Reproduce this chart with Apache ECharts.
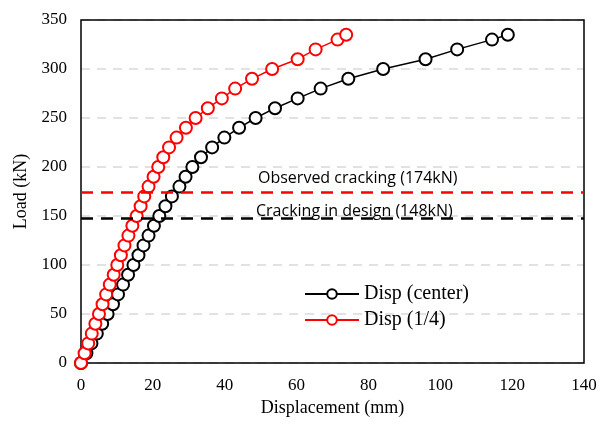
<!DOCTYPE html>
<html><head><meta charset="utf-8">
<script src="https://cdn.jsdelivr.net/npm/echarts@6/dist/echarts.min.js"></script>
<style>html,body{margin:0;padding:0;background:#fff}#c{width:611px;height:429px}</style>
</head><body><div id="c"></div>
<script>
const loads = [0,10,20,30,40,50,60,70,80,90,100,110,120,130,140,150,160,170,180,190,200,210,220,230,240,250,260,270,280,290,300,310,320,330,335];
const dispCenter = [0,1.5,2.9,4.4,5.9,7.4,8.9,10.3,11.7,13.1,14.6,16.0,17.4,18.8,20.3,21.8,23.5,25.3,27.4,29.1,31.0,33.4,36.5,39.9,44.0,48.6,54.0,60.3,66.7,74.4,84.1,95.9,104.7,114.4,118.8];
const dispQuarter = [0,1.0,2.0,3.0,4.0,5.0,6.0,7.0,8.0,9.1,10.1,11.1,12.1,13.2,14.3,15.5,16.6,17.6,18.8,20.2,21.5,22.9,24.5,26.6,29.2,31.9,35.3,39.2,42.9,47.6,53.2,60.3,65.3,71.4,73.8];
const seriesNames = ['Disp (center)','Disp (1/4)'];
const crackObserved = 174, crackDesign = 148;
const crackLabels = ['Observed cracking (174kN)','Cracking in design (148kN)'];

const chart = echarts.init(document.getElementById('c'));
const serif = '"Liberation Serif","Times New Roman",serif';
const mk = (xs)=> xs.map((x,i)=>[x,loads[i]]);
chart.setOption({
  animation:false,
  grid:{left:81,right:27,top:20,bottom:66},
  xAxis:{type:'value',min:0,max:140,interval:20,name:'Displacement (mm)',nameLocation:'middle',nameGap:35,
    nameTextStyle:{fontFamily:serif,fontSize:18,color:'#000'},
    axisLine:{show:false},axisTick:{show:false},splitLine:{show:false},
    axisLabel:{fontFamily:serif,fontSize:17,color:'#000',margin:14}},
  yAxis:{type:'value',min:0,max:350,interval:50,name:'Load (kN)',nameLocation:'middle',nameGap:48,
    nameTextStyle:{fontFamily:serif,fontSize:18,color:'#000'},
    axisLine:{show:false},axisTick:{show:false},
    splitLine:{show:true,lineStyle:{color:'#d9d9d9',width:1.5,type:[9,7]}},
    axisLabel:{fontFamily:serif,fontSize:17,color:'#000',margin:14}},
  legend:{orient:'vertical',left:299,top:279,itemWidth:54,itemHeight:12,itemGap:6,
    textStyle:{fontFamily:serif,fontSize:20,color:'#000'},data:seriesNames},
  series:[
    {name:seriesNames[0],type:'line',data:mk(dispCenter),symbol:'emptyCircle',symbolSize:12,
     lineStyle:{color:'#000',width:1.5},itemStyle:{color:'#000',borderWidth:1.8},
     markLine:{silent:true,symbol:'none',label:{show:false},
       lineStyle:{color:'#000',width:2.5,type:[12,8]},data:[{yAxis:crackDesign}]}},
    {name:seriesNames[1],type:'line',data:mk(dispQuarter),symbol:'emptyCircle',symbolSize:12,
     lineStyle:{color:'#ff0000',width:1.5},itemStyle:{color:'#ff0000',borderWidth:1.8},
     markLine:{silent:true,symbol:'none',label:{show:false},
       lineStyle:{color:'#ff0000',width:2.5,type:[12,8]},data:[{yAxis:crackObserved}]}}
  ]
});
const a = chart.convertToPixel({xAxisIndex:0,yAxisIndex:0},[0,0]);
const b = chart.convertToPixel({xAxisIndex:0,yAxisIndex:0},[140,350]);
const p1 = chart.convertToPixel({xAxisIndex:0,yAxisIndex:0},[0,crackObserved]);
const p2 = chart.convertToPixel({xAxisIndex:0,yAxisIndex:0},[0,crackDesign]);
const fnt = '16px "Open Sans","Liberation Sans",sans-serif';
chart.setOption({graphic:[
  {type:'rect',z:1,silent:true,shape:{x:a[0],y:b[1],width:b[0]-a[0],height:a[1]-b[1]},style:{fill:'none',stroke:'#000',lineWidth:1.5}},
  {type:'text',left:258,top:p1[1]-22,style:{text:crackLabels[0],font:fnt,fill:'#000'}},
  {type:'text',left:256,top:p2[1]-15,style:{text:crackLabels[1],font:fnt,fill:'#000'}}
]});
</script></body></html>
